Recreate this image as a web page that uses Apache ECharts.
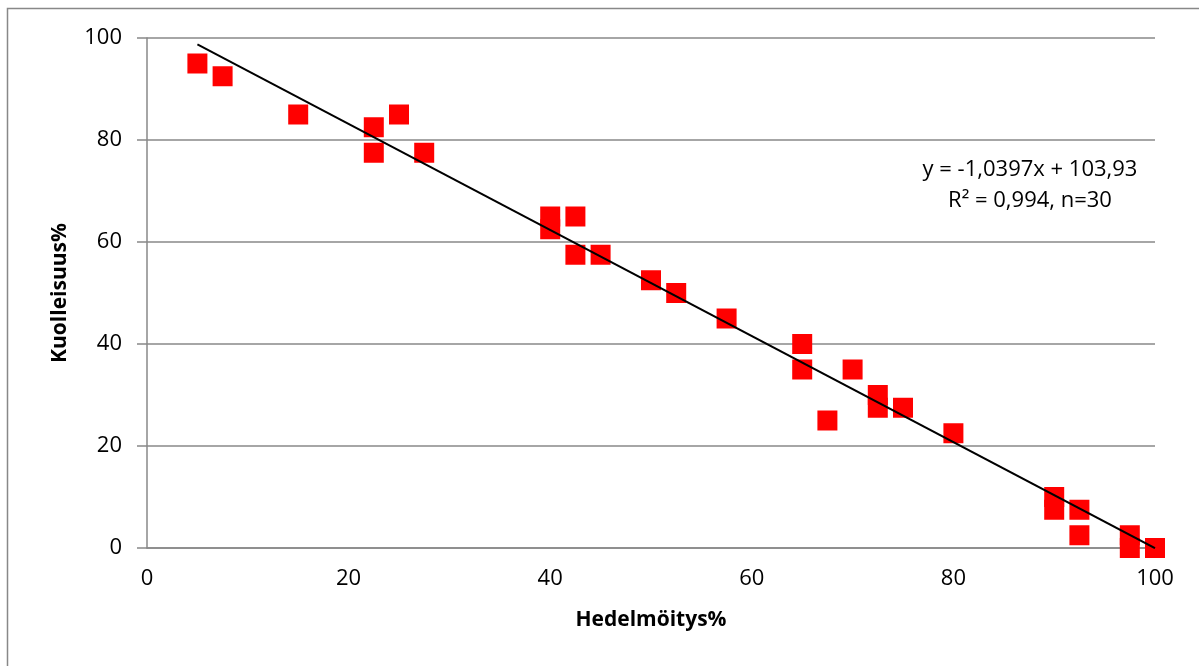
<!DOCTYPE html>
<html><head><meta charset="utf-8">
<script src="https://cdn.jsdelivr.net/npm/echarts@6/dist/echarts.min.js"></script>
<style>html,body{margin:0;padding:0;background:#fff}#c{width:1199px;height:666px}</style>
</head><body><div id="c"></div>
<script>
const xValues = [5, 7.5, 15, 22.5, 22.5, 25, 27.5, 40, 40, 42.5, 42.5, 45, 50, 52.5, 57.5, 65, 65, 67.5, 70, 72.5, 72.5, 75, 80, 90, 90, 92.5, 92.5, 97.5, 97.5, 100];
const yValues = [95, 92.5, 85, 82.5, 77.5, 85, 77.5, 65, 62.5, 65, 57.5, 57.5, 52.5, 50, 45, 40, 35, 25, 35, 30, 27.5, 27.5, 22.5, 10, 7.5, 7.5, 2.5, 2.5, 0, 0];
const trendSlope = -1.0397;
const trendIntercept = 103.93;
const trendRange = [5, 100];
const xTicks = [0, 20, 40, 60, 80, 100];
const yTicks = [0, 20, 40, 60, 80, 100];
const equationText = 'y = -1,0397x + 103,93';
const r2Text = 'R² = 0,994, n=30';
const xTitle = 'Hedelmöitys%';
const yTitle = 'Kuolleisuus%';

const points = xValues.map((x, i) => [x, yValues[i]]);
const trend = trendRange.map(x => [x, trendSlope * x + trendIntercept]);
const font = '"Open Sans", "Noto Sans", sans-serif';

const chart = echarts.init(document.getElementById('c'));
chart.setOption({
  animation: false,
  backgroundColor: '#fff',
  grid: {left: 147, right: 44, top: 38, bottom: 118, containLabel: false},
  graphic: [
    {type: 'rect', shape: {x: 7.5, y: 8.5, width: 1300, height: 800}, style: {fill: 'none', stroke: '#888', lineWidth: 1.5}, z: -1},
    {type: 'text', style: {x: 1030, y: 170, text: equationText, font: '22px ' + font, fill: '#000', textAlign: 'center', textVerticalAlign: 'middle'}},
    {type: 'text', style: {x: 1030, y: 201, text: r2Text, font: '22px ' + font, fill: '#000', textAlign: 'center', textVerticalAlign: 'middle'}}
  ],
  xAxis: {
    type: 'value', min: 0, max: 100, interval: 20,
    name: xTitle, nameLocation: 'middle', nameGap: 62,
    nameTextStyle: {fontFamily: font, fontWeight: 'bold', fontSize: 21, color: '#000'},
    axisLine: {lineStyle: {color: '#888', width: 1.5}},
    axisTick: {show: false},
    axisLabel: {fontFamily: font, fontSize: 22, color: '#000', margin: 20},
    splitLine: {show: false}
  },
  yAxis: {
    type: 'value', min: 0, max: 100, interval: 20,
    name: yTitle, nameLocation: 'middle', nameGap: 76, nameRotate: 90,
    nameTextStyle: {fontFamily: font, fontWeight: 'bold', fontSize: 21, color: '#000'},
    axisLine: {show: true, lineStyle: {color: '#888', width: 1.5}},
    axisTick: {show: true, length: 10, inside: false, lineStyle: {color: '#888', width: 1.5}},
    axisLabel: {fontFamily: font, fontSize: 22, color: '#000', margin: 25},
    splitLine: {show: true, lineStyle: {color: '#888', width: 1.5}}
  },
  series: [
    {type: 'scatter', data: points, symbol: 'rect', symbolSize: 20, itemStyle: {color: '#ff0000', opacity: 1}, z: 2},
    {type: 'line', data: trend, symbol: 'none', lineStyle: {color: '#000', width: 2}, z: 3}
  ]
});
</script></body></html>
